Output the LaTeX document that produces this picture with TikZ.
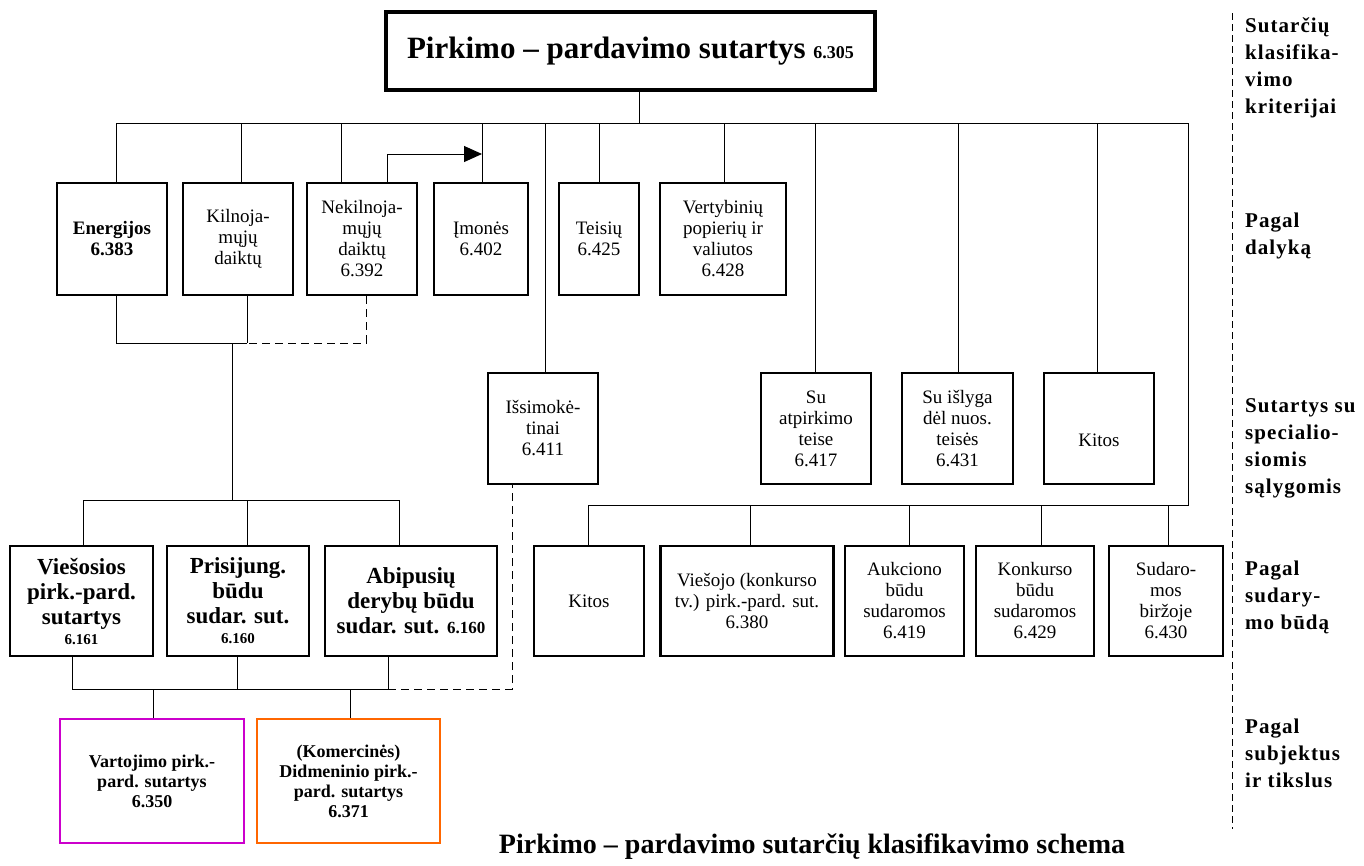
\documentclass[tikz,border=0pt]{standalone}
\usepackage{fontspec}
\setmainfont{Liberation Serif}
\usepackage{xcolor}
\usetikzlibrary{arrows.meta}
\definecolor{boxmagenta}{RGB}{204,0,204}
\definecolor{boxorange}{RGB}{255,102,0}

\begin{document}
\begin{tikzpicture}[x=1pt,y=-1pt,
    box/.style={draw, rectangle, line width=2.5pt, align=center, inner sep=0pt,
      font=\fontsize{19}{21}\selectfont},
    boldbox/.style={box, font=\bfseries\fontsize{23}{25}\selectfont},
    crit/.style={anchor=north west, align=left, inner sep=0pt,
      font=\bfseries\fontsize{21}{27}\selectfont\addfontfeature{LetterSpace=5}},
    conn/.style={line width=1pt},
    dconn/.style={line width=1pt, dash pattern=on 8pt off 5pt}]
    \useasboundingbox (0,0) rectangle (1364,865);

    % root
    \node (A) at (630.5,51) [box, line width=3.5pt, minimum width=489, minimum height=78,
      font=\bfseries\fontsize{31}{31}\selectfont]
      {Pirkimo – pardavimo sutartys {\fontsize{18}{18}\selectfont 6.305}};

    % pagal dalyka
    \node (B1) at (112,239) [box, minimum width=110, minimum height=112, font=\bfseries\fontsize{19}{21}\selectfont] {Energijos\\6.383};
    \node (B2) at (238,239) [box, minimum width=110, minimum height=112] {Kilnoja-\\mųjų\\daiktų};
    \node (B3) at (362,239) [box, minimum width=110, minimum height=112] {Nekilnoja-\\mųjų\\daiktų\\6.392};
    \node (B4) at (481,239) [box, minimum width=94, minimum height=112] {Įmonės\\6.402};
    \node (B5) at (599,239) [box, minimum width=80, minimum height=112] {Teisių\\6.425};
    \node (B6) at (723,239) [box, minimum width=126, minimum height=112] {Vertybinių\\popierių ir\\valiutos\\6.428};

    % specialios salygos
    \node (C1) at (543,428.5) [box, minimum width=110, minimum height=111] {Išsimokė-\\tinai\\6.411};
    \node (C2) at (816,428.5) [box, minimum width=110, minimum height=111] {Su\\atpirkimo\\teise\\6.417};
    \node (C3) at (957.5,428.5) [box, minimum width=111, minimum height=111] {Su išlyga\\dėl nuos.\\teisės\\6.431};
    \node (C4) at (1099,428.5) [box, minimum width=110, minimum height=111] {\raisebox{-18pt}[0pt][0pt]{Kitos}};

    % sudarymo budas
    \node (D1) at (81.5,601) [boldbox, minimum width=143, minimum height=110] {Viešosios\\pirk.-pard.\\sutartys\\[-5pt]{\fontsize{15}{17}\selectfont 6.161}};
    \node (D2) at (238,601) [boldbox, minimum width=142, minimum height=110] {Prisijung.\\būdu\\sudar. sut.\\[-5pt]{\fontsize{15}{17}\selectfont 6.160}};
    \node (D3) at (411,601) [boldbox, minimum width=172, minimum height=110] {Abipusių\\derybų būdu\\sudar. sut. {\fontsize{17}{17}\selectfont 6.160}};
    \node (D4) at (589,601) [box, minimum width=110, minimum height=110] {Kitos};
    \node (D5) at (747,601) [box, minimum width=173, minimum height=110] {Viešojo (konkurso\\tv.) pirk.-pard. sut.\\6.380};
    \node (D6) at (904.5,601) [box, minimum width=119, minimum height=110] {Aukciono\\būdu\\sudaromos\\6.419};
    \node (D7) at (1035,601) [box, minimum width=118, minimum height=110] {Konkurso\\būdu\\sudaromos\\6.429};
    \node (D8) at (1166,601) [box, minimum width=114, minimum height=110] {Sudaro-\\mos\\biržoje\\6.430};

    % subjektai
    \node (E1) at (152,781) [box, draw=boxmagenta, minimum width=184, minimum height=124,
      font=\bfseries\fontsize{18}{20}\selectfont] {Vartojimo pirk.-\\pard. sutartys\\6.350};
    \node (E2) at (348.5,781) [box, draw=boxorange, minimum width=183, minimum height=124,
      font=\bfseries\fontsize{18}{20}\selectfont] {(Komercinės)\\Didmeninio pirk.-\\pard. sutartys\\6.371};

    % kriterijai
    \node (K1) at (1245,17.5) [crit] {Sutarčių\\klasifika-\\vimo\\kriterijai};
    \node (K2) at (1245,212.7) [crit] {Pagal\\dalyką};
    \node (K3) at (1245,398.7) [crit] {Sutartys su\\specialio-\\siomis\\sąlygomis};
    \node (K4) at (1245,560.7) [crit] {Pagal\\sudary-\\mo būdą};
    \node (K5) at (1245,718.7) [crit] {Pagal\\subjektus\\ir tikslus};
    \node (T) at (812,853) [anchor=base, inner sep=0pt, font=\bfseries\fontsize{28}{28}\selectfont]
      {Pirkimo – pardavimo sutarčių klasifikavimo schema};

    \draw[line width=0.8pt, dash pattern=on 7pt off 4pt] (1232,13) -- (1232,829);

    % top bus
    \draw[conn] (639,0 |- A.south) -- (639,123);
    \draw[conn] (116,123) -- (1188,123);
    \foreach \x/\n in {116/B1,241/B2,341/B3,482/B4,599/B5,724/B6,545/C1,815/C2,958/C3,1097/C4}
      \draw[conn] (\x,123) -- (\x,0 |- \n.north);
    \draw[conn, -{Triangle[length=18pt,width=16pt]}] (387,0 |- B3.north) |- (482,154);

    % right bus
    \draw[conn] (1188,123) |- (588,505);
    \foreach \x/\n in {588/D4,750/D5,909/D6,1041/D7,1168/D8}
      \draw[conn] (\x,505) -- (\x,0 |- \n.north);

    % left tree
    \draw[conn] (116,0 |- B1.south) |- (247,343);
    \draw[conn] (247,0 |- B2.south) -- (247,343);
    \draw[dconn] (366,0 |- B3.south) |- (247,343);
    \draw[conn] (232,343) -- (232,500);
    \draw[conn] (83.5,0 |- D1.north) |- (399,500) -- (399,0 |- D3.north);
    \draw[conn] (247,500) -- (247,0 |- D2.north);

    \draw[conn] (72,0 |- D1.south) |- (388,689);
    \draw[conn] (237,0 |- D2.south) -- (237,689);
    \draw[conn] (388,0 |- D3.south) -- (388,689);
    \draw[dconn] (388,689) -| (512,0 |- C1.south);
    \draw[conn] (153,689) -- (153,0 |- E1.north);
    \draw[conn] (350,689) -- (350,0 |- E2.north);
\end{tikzpicture}
\end{document}
